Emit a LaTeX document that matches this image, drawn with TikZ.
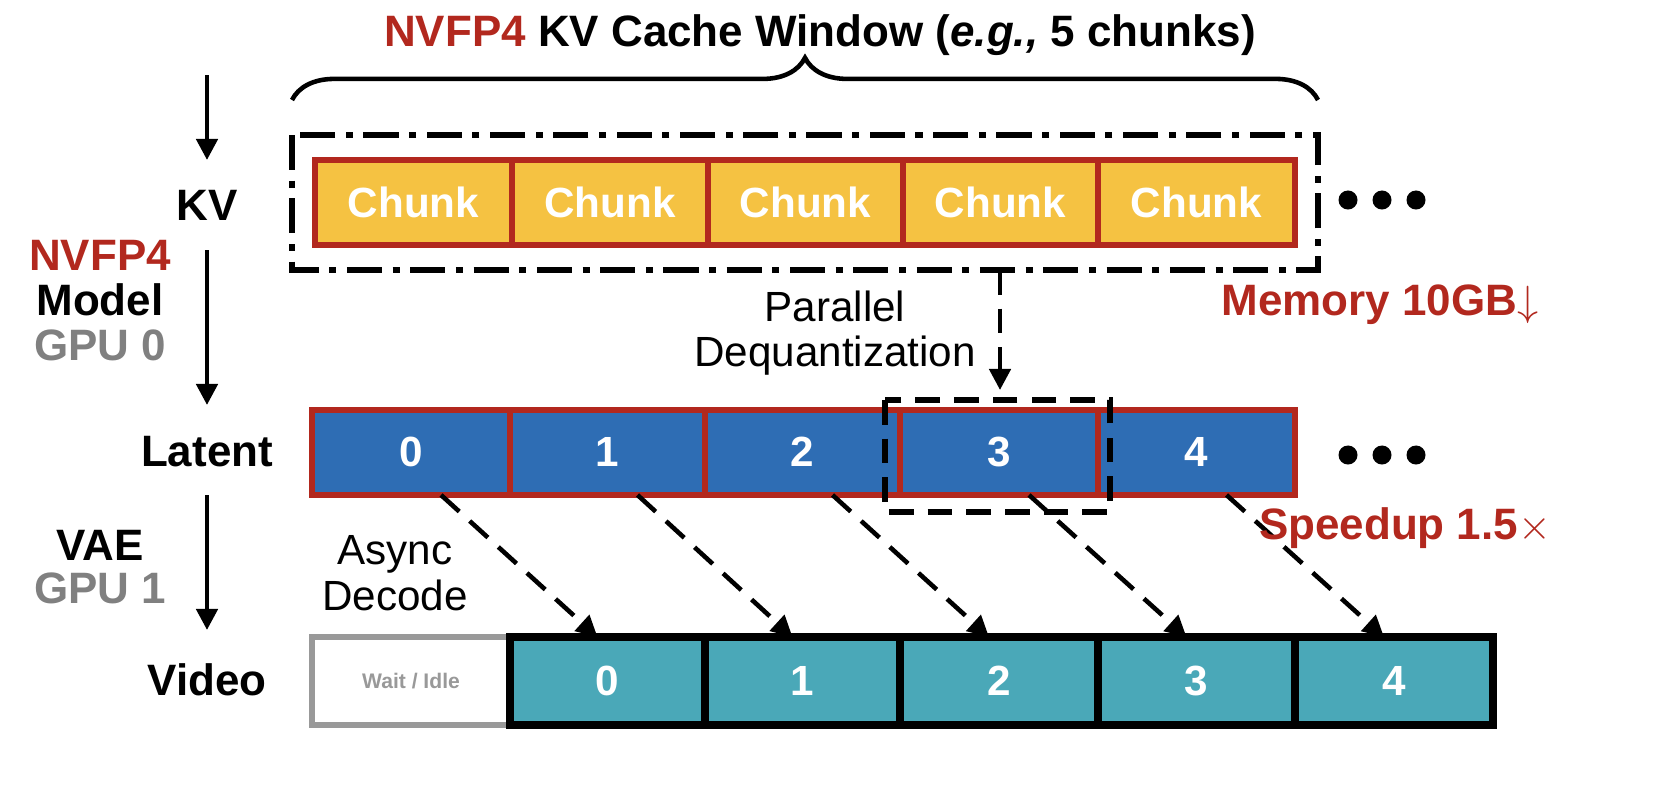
\documentclass[tikz,border=0pt]{standalone}
\usepackage{fontspec}
\setmainfont{Liberation Sans}
\usetikzlibrary{decorations.pathreplacing,arrows.meta}
\definecolor{chunkorange}{HTML}{F5C242}
\definecolor{fpred}{HTML}{B2281E}
\definecolor{latblue}{HTML}{2E6DB4}
\definecolor{vidteal}{HTML}{4AA8B8}
\begin{document}
\begin{tikzpicture}[x=0.01cm, y=-0.01cm,
	box/.style={anchor=north west, inner sep=0pt, text=white, font=\bfseries\fontsize{12}{14}\selectfont},
	lbl/.style={font=\bfseries\fontsize{12.5}{14}\selectfont},
	dot/.style={circle, fill=black, inner sep=0pt, minimum size=0.19cm},
	flow/.style={-{Triangle[length=6pt,width=6pt]}, line width=1.3pt},
	hop/.style={-{Triangle[length=6pt,width=6pt]}, line width=1.3pt, dash pattern=on 7pt off 4pt}]
	\useasboundingbox (0,0) rectangle (1654,800);
	\node[lbl] (title) at (820,35) {\textcolor{fpred}{NVFP4} KV Cache Window (\textit{e.g.,} 5 chunks)};
	\draw[line width=1.3pt, decorate, decoration={brace, amplitude=12pt}] (292,100) -- (1318,100);
	\draw[line width=1.6pt, dash pattern=on 10pt off 3pt on 2pt off 3pt] (292,135) rectangle (1318,270);
	% KV chunks
	\foreach \i/\xa/\xb in {0/315/512,1/512/708,2/708/903,3/903/1098,4/1098/1295}{
		\draw[draw=fpred, line width=1.6pt, fill=chunkorange] (\xa,160) rectangle (\xb,245);
		\node[box, anchor=center] (c\i) at ({(\xa+\xb)/2},202) {Chunk};
	}
	% latents
	\foreach \i/\xa/\xb in {0/312/510,1/510/705,2/705/900,3/900/1098,4/1098/1295}{
		\draw[draw=fpred, line width=1.6pt, fill=latblue] (\xa,410) rectangle (\xb,495);
		\node[box, anchor=center] (l\i) at ({(\xa+\xb)/2},452) {\i};
	}
	\draw[line width=1.6pt, dash pattern=on 7pt off 4pt] (885,400) rectangle (1110,512);
	% video
	\draw[draw=gray!80, line width=1.6pt, fill=white] (312,637) rectangle (510,725);
	\node[font=\bfseries\fontsize{6}{7}\selectfont, text=gray!80] (wait) at (411,681) {Wait / Idle};
	\foreach \i/\xa/\xb in {0/510/705,1/705/900,2/900/1098,3/1098/1295,4/1295/1493}{
		\draw[draw=black, line width=2pt, fill=vidteal] (\xa,637) rectangle (\xb,725);
		\node[box, anchor=center] (v\i) at ({(\xa+\xb)/2},681) {\i};
		\coordinate (vt\i) at ({(\xa+\xb)/2-10},637);
	}
	\foreach \i in {0,...,4}{
		\draw[hop] ([xshift=0.3cm]l\i.south |- 0,495) -- (vt\i);
	}
	% row labels
	\node[lbl] (kv) at (207,205) {KV};
	\node[lbl] (lat) at (207,452) {Latent};
	\node[lbl] (vid) at (207,680) {Video};
	\coordinate (top) at (207,75);
	\draw[flow] (top) -- (207,160);
	\draw[flow] (207,250) -- (207,405);
	\draw[flow] (207,495) -- (207,630);
	\node[lbl, text=fpred] (fp) at (100,255) {NVFP4};
	\node[lbl] (model) at (100,300) {Model};
	\node[lbl, text=gray] (g0) at (100,345) {GPU 0};
	\node[lbl] (vae) at (100,545) {VAE};
	\node[lbl, text=gray] (g1) at (100,588) {GPU 1};
	\node[font=\fontsize{12}{14}\selectfont, align=center] (deq) at (835,333) {Parallel\\[-1pt]Dequantization};
	\node[font=\fontsize{12}{14}\selectfont, align=center] (dec) at (395,573) {Async\\[-1pt]Decode};
	\coordinate (dq) at (1000,270);
	\draw[hop] (dq) -- (1000,390);
	\node[lbl, text=fpred] (mem) at (1380,305) {Memory 10GB$\downarrow$};
	\node[lbl, text=fpred] (spd) at (1405,528) {Speedup 1.5$\times$};
	\foreach \y/\n in {200/a,455/b}{
		\foreach \x/\k in {1348/1,1382/2,1416/3}{
			\node[dot] (d\n\k) at (\x,\y) {};
		}
	}
\end{tikzpicture}
\end{document}
